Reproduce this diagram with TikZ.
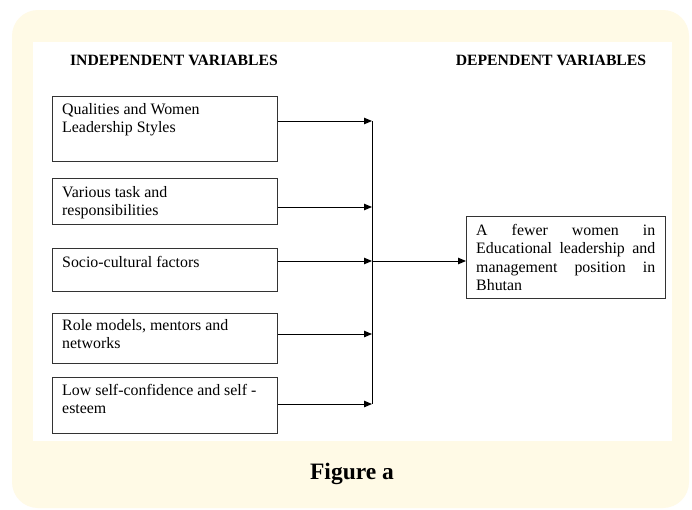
\documentclass[tikz,border=0pt]{standalone}
\usepackage{fontspec}
\setmainfont{Liberation Serif}
\usetikzlibrary{arrows.meta}
\definecolor{cream}{HTML}{FFFAE6}
\definecolor{edge}{HTML}{333333}
\begin{document}
\begin{tikzpicture}[x=1pt,y=-1pt,
  box/.style={draw=edge, line width=1pt, rectangle, inner sep=0pt, anchor=north west},
  txt/.style={anchor=north west, inner sep=0pt, align=left, font=\fontsize{15.9}{18.5}\selectfont},
  head/.style={inner sep=0pt, anchor=base, font=\fontsize{15.7}{18.5}\selectfont\bfseries},
  arr/.style={draw=black, line width=0.9pt, -{Triangle[length=8pt,width=6.5pt]}},
  bus/.style={draw=black, line width=0.9pt}]
\useasboundingbox (0,0) rectangle (692,509);
\fill[white] (0,0) rectangle (692,509);
\fill[cream, rounded corners=26pt] (12,10) rectangle (689,508);
\fill[white] (33,42) rectangle (672,441);
% headings
\node[head] (h1) at (174,65) {INDEPENDENT VARIABLES};
\node[head] (h2) at (551,65) {DEPENDENT VARIABLES};
% boxes
\node[box, minimum width=225pt, minimum height=65pt] (b1) at (52,96) {};
\node[box, minimum width=225pt, minimum height=46pt] (b2) at (52,178) {};
\node[box, minimum width=225pt, minimum height=43pt] (b3) at (52,248) {};
\node[box, minimum width=225pt, minimum height=50pt] (b4) at (52,313) {};
\node[box, minimum width=225pt, minimum height=56pt] (b5) at (52,377) {};
\node[box, minimum width=199pt, minimum height=82pt] (r) at (466,216) {};
% texts
\node[txt] (t1) at ([xshift=10pt,yshift=-7pt]b1.north west) {Qualities and Women\\Leadership Styles};
\node[txt] (t2) at ([xshift=10pt,yshift=-8pt]b2.north west) {Various task and\\responsibilities};
\node[txt] (t3) at ([xshift=10pt,yshift=-8pt]b3.north west) {Socio-cultural factors};
\node[txt] (t4) at ([xshift=10pt,yshift=-6pt]b4.north west) {Role models, mentors and\\networks};
\node[txt] (t5) at ([xshift=10pt,yshift=-7pt]b5.north west) {Low self-confidence and self -\\esteem};
\node[txt, text width=179pt, align=justify] (t6) at ([xshift=10pt,yshift=-8pt]r.north west)
  {\noindent A fewer women in\linebreak Educational leadership and\linebreak management position in\linebreak Bhutan};
% bus coordinates
\coordinate (j1) at (372,121);
\coordinate (j2) at (372,207);
\coordinate (j3) at (372,261);
\coordinate (j4) at (372,334);
\coordinate (j5) at (372,404);
\draw[bus] (j1) -- (j5);
\draw[arr] (b1.east |- j1) -- (j1);
\draw[arr] (b2.east |- j2) -- (j2);
\draw[arr] (b3.east |- j3) -- (j3);
\draw[arr] (b4.east |- j4) -- (j4);
\draw[arr] (b5.east |- j5) -- (j5);
\draw[arr] (j3) -- (r.west |- j3);
% caption
\node[inner sep=0pt, anchor=base, font=\fontsize{23.5}{26}\selectfont\bfseries] (cap) at (352,479) {Figure a};
\end{tikzpicture}
\end{document}
